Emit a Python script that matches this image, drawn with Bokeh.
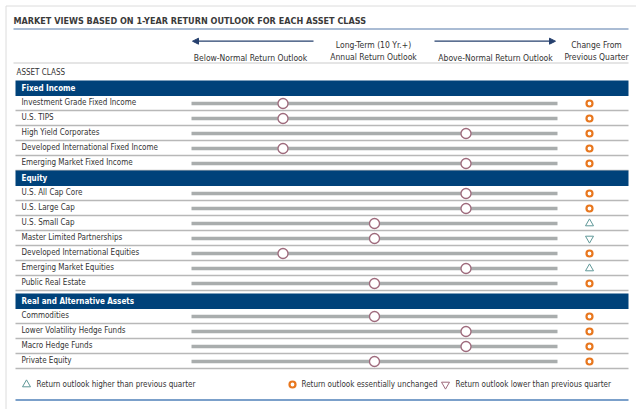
from bokeh.plotting import figure
from bokeh.models import Range1d, Arrow, NormalHead
from bokeh.core.properties import value
from bokeh.embed import file_html
from bokeh.resources import INLINE

# ---------------- data ----------------
title = "MARKET VIEWS BASED ON 1-YEAR RETURN OUTLOOK FOR EACH ASSET CLASS"
sections = ["Fixed Income", "Equity", "Real and Alternative Assets"]
fixed_income = ["Investment Grade Fixed Income", "U.S. TIPS", "High Yield Corporates",
                "Developed International Fixed Income", "Emerging Market Fixed Income"]
equity = ["U.S. All Cap Core", "U.S. Large Cap", "U.S. Small Cap", "Master Limited Partnerships",
          "Developed International Equities", "Emerging Market Equities", "Public Real Estate"]
real_alt = ["Commodities", "Lower Volatility Hedge Funds", "Macro Hedge Funds", "Private Equity"]
# outlook: -1 below normal, 0 normal, +1 above normal
outlook_fi = [-1, -1, 1, -1, 1]
outlook_eq = [1, 1, 0, 0, -1, 1, 0]
outlook_ra = [0, 1, 1, 0]
# change from previous quarter: "up", "same", "down"
change_fi = ["same", "same", "same", "same", "same"]
change_eq = ["same", "same", "up", "down", "same", "up", "same"]
change_ra = ["same", "same", "same", "same"]
scale_min, scale_max = -2, 2
legend_labels = ["Return outlook higher than previous quarter",
                 "Return outlook essentially unchanged",
                 "Return outlook lower than previous quarter"]

FONT = "DejaVu Sans Condensed"
TXT = "#333333"
NAVY = "#00427a"
GREY_BAR = "#a9adad"
SEP = "#b8b8b8"
MAUVE = "#9e6a7c"
ORANGE = "#e8771e"
TEAL = "#5f9898"

W, H = 636, 409
X0, Y0 = 1, 1
p = figure(width=W, height=H, x_range=Range1d(X0, X0 + W), y_range=Range1d(Y0 + H, Y0),
           output_backend="svg", toolbar_location=None, min_border=0,
           x_axis_type=None, y_axis_type=None)
p.grid.visible = False
p.outline_line_color = None
p.background_fill_color = "white"
p.border_fill_color = "white"
# outlook scale mapped onto the page
p.extra_x_ranges = {"outlook": Range1d((X0 - 375) / 91.5, (X0 + W - 375) / 91.5)}

# frame border (left/top)
p.segment(x0=[6.5, 6.5], y0=[6.5, 6.5], x1=[6.5, 638], y1=[412, 6.5], line_color="#dcdcdc", line_width=1)

# title
p.text(x=[14], y=[21], text=[title], text_font=value(FONT), text_font_style="bold",
       text_font_size="9px", text_color="#3a3a3a", text_baseline="middle")
p.segment(x0=[14], y0=[29.5], x1=[629], y1=[29.5], line_color="#8ea6c6", line_width=1.5)

# header
hdr_kw = dict(text_font=value(FONT), text_font_size="8.5px", text_color=TXT,
              text_baseline="middle", text_align="center")
p.text(x=[251, 374, 374, 496, 597, 597], y=[58, 45, 57, 58, 45, 57],
       text=["Below-Normal Return Outlook", "Long-Term (10 Yr.+)", "Annual Return Outlook",
             "Above-Normal Return Outlook", "Change From", "Previous Quarter"], **hdr_kw)
for xs, xe in [(314, 193), (435, 556)]:
    p.add_layout(Arrow(end=NormalHead(size=6, line_color="#26406e", fill_color="#26406e"),
                       x_start=xs, y_start=41.7, x_end=xe, y_end=41.7,
                       line_color="#26406e", line_width=1.3))
p.segment(x0=[14], y0=[63.5], x1=[629], y1=[63.5], line_color="#dddddd", line_width=1.5)
p.text(x=[17], y=[72.5], text=["ASSET CLASS"], text_font=value(FONT), text_font_size="8px",
       text_color=TXT, text_baseline="middle")

# layout of sections
groups = [(fixed_income, outlook_fi, change_fi), (equity, outlook_eq, change_eq),
          (real_alt, outlook_ra, change_ra)]
gaps = [0, 0, 3]
band_h, row_h = 15, 15
y = 81
names, outs, chs, ys = [], [], [], []
for (sec, (labels, outl, chg), gap) in zip(sections, groups, gaps):
    y += gap
    p.quad(left=[16], right=[629], top=[y], bottom=[y + band_h + 0.5], fill_color=NAVY, line_color=None)
    p.text(x=[22], y=[y + band_h / 2], text=[sec], text_font=value(FONT), text_font_style="bold",
           text_font_size="8px", text_color="white", text_baseline="middle")
    y += band_h
    for lab, o, c in zip(labels, outl, chg):
        names.append(lab); outs.append(o); chs.append(c); ys.append(y + row_h / 2 + 0.5)
        p.segment(x0=[16], y0=[y + row_h], x1=[629], y1=[y + row_h], line_color=SEP, line_width=1.5)
        y += row_h

# row labels
p.text(x=[22] * len(names), y=[v - 1.2 for v in ys], text=names, text_font=value(FONT),
       text_font_size="8px", text_color=TXT, text_baseline="middle")
# grey scale bars
p.segment(x0=[scale_min] * len(ys), y0=ys, x1=[scale_max] * len(ys), y1=ys,
          x_range_name="outlook", line_color=GREY_BAR, line_width=3.5)
# outlook circles
p.scatter(x=outs, y=ys, x_range_name="outlook", marker="circle", size=10,
          line_color=MAUVE, line_width=1.3, fill_color="white")
# change markers
CX = 590
same_y = [v for v, c in zip(ys, chs) if c == "same"]
up_y = [v for v, c in zip(ys, chs) if c == "up"]
down_y = [v for v, c in zip(ys, chs) if c == "down"]
p.scatter(x=[CX] * len(same_y), y=same_y, marker="circle", size=6, line_color=ORANGE,
          line_width=2.2, fill_color="white")
p.scatter(x=[CX] * len(up_y), y=up_y, marker="triangle", size=8, line_color=TEAL,
          line_width=1, fill_color="white")
p.scatter(x=[CX] * len(down_y), y=down_y, marker="inverted_triangle", size=8, line_color=TEAL,
          line_width=1, fill_color="white")

# legend
LY = 385
p.scatter(x=[27], y=[LY], marker="triangle", size=8, line_color=TEAL, line_width=1, fill_color="white")
p.scatter(x=[293], y=[LY], marker="circle", size=6, line_color=ORANGE, line_width=2.2, fill_color="white")
p.scatter(x=[446], y=[LY], marker="inverted_triangle", size=8, line_color=MAUVE, line_width=1, fill_color="white")
p.text(x=[37, 302, 456], y=[LY, LY, LY], text=legend_labels, text_font=value(FONT),
       text_font_size="8px", text_color=TXT, text_baseline="middle")
p.segment(x0=[16], y0=[400.5], x1=[629], y1=[400.5], line_color="#4f80b8", line_width=1.3)

open("out.html", "w").write(file_html(p, INLINE))
